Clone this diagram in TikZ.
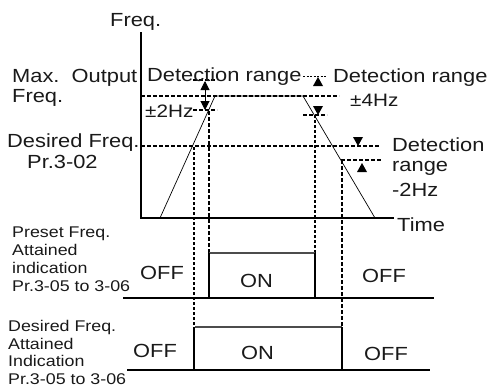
\documentclass[tikz,border=0pt]{standalone}
\usepackage{fontspec}
\setmainfont{Liberation Sans}[FakeStretch=1.15]
\usetikzlibrary{arrows.meta}
\begin{document}
\begin{tikzpicture}[x=1pt,y=-1pt,
  big/.style={font=\fontsize{19}{22}\selectfont, inner sep=0pt, anchor=base west, text=black!90},
  small/.style={font=\fontsize{15.5}{18}\selectfont, inner sep=0pt, anchor=base west, text=black!90},
  axis/.style={line width=1.3pt},
  ramp/.style={line width=0.7pt},
  guide/.style={line width=1.3pt, dash pattern=on 4pt off 2pt},
  vthick/.style={line width=1.8pt, dash pattern=on 4pt off 2pt},
  vthin/.style={line width=1.2pt, dash pattern=on 3pt off 2pt},
  fine/.style={line width=0.6pt, dash pattern=on 2pt off 1.5pt},
  base/.style={line width=1.7pt},
  high/.style={line width=1.3pt, black!70},
  edge/.style={line width=1.6pt},
  tri/.style={fill=black}
]
\useasboundingbox (0,0) rectangle (494,388);

% axes
\coordinate (o) at (141,218);
\coordinate (ytop) at (141,32);
\coordinate (xend) at (394,218);
\draw[axis] (ytop) -- (o) -- (xend);

% ramp profile
\coordinate (r0) at (160,218);
\coordinate (r1) at (215,96);
\coordinate (r2) at (303,96);
\coordinate (r3) at (375,218);
\draw[ramp] (r0) -- (r1) -- (r2) -- (r3);

% horizontal guides
\draw[guide] (141,96) -- (339,96);
\draw[guide] (141,146) -- (380,146);
\draw[guide] (193,80) -- (217,80);
\draw[guide] (193,110) -- (217,110);
\draw[fine] (303,76) -- (327,76);
\draw[guide] (303,115) -- (327,115);
\draw[guide] (341,160) -- (382,160);

% detection arrows / markers
\draw[line width=1pt, {Triangle[width=9pt,length=9pt]}-{Triangle[width=9pt,length=9pt]}] (205,81) -- (205,110);
\fill[tri] (313,86) -- (323,86) -- (318,77) -- cycle;
\fill[tri] (313,106) -- (323,106) -- (318,115) -- cycle;
\fill[tri] (353,137) -- (363,137) -- (358,146) -- cycle;
\fill[tri] (357,172) -- (367,172) -- (362,163) -- cycle;

% vertical guides
\draw[vthin] (194,147) -- (194,370);
\draw[vthick] (209,111) -- (209,253);
\draw[vthin] (315,115) -- (315,253);
\draw[vthick] (342,160) -- (342,370);

% preset waveform
\draw[base] (123,298) -- (434,298);
\draw[high] (209,253) -- (315,253);
\draw[edge] (209,253) -- (209,298);
\draw[line width=1.1pt] (315,253) -- (315,298);

% desired waveform
\draw[base] (127,370) -- (430,370);
\draw[high] (195,327) -- (342,327);
\draw[edge] (194,327) -- (194,370);
\draw[edge] (342,327) -- (342,370);

% texts
\node[big] (tfreq) at (110,26) {Freq.};
\node[big] (tmax) at (12,82) {Max.\ \ Output};
\node[big] (tmax2) at (12,102) {Freq.};
\node[big] (tdes) at (7,147) {Desired Freq.};
\node[big] (tpr) at (27,168) {Pr.3-02};
\node[big] (tdet1) at (147,81) {Detection range};
\node[big, font=\fontsize{18}{22}\selectfont] (t2hz) at (145,117) {±2Hz};
\node[big] (tdet2) at (333,82) {Detection range};
\node[big, font=\fontsize{18}{22}\selectfont] (t4hz) at (350,106) {±4Hz};
\node[big] (tdet3) at (392,151) {Detection};
\node[big] (tdet3b) at (392,171) {range};
\node[big] (tdet3c) at (392,196) {-2Hz};
\node[big] (ttime) at (397,231) {Time};

\node[small] (p1) at (12,237) {Preset Freq.};
\node[small] (p2) at (12,255) {Attained};
\node[small] (p3) at (12,273) {indication};
\node[small] (p4) at (12,291) {Pr.3-05 to 3-06};

\node[small] (d1) at (8,331.5) {Desired Freq.};
\node[small] (d2) at (8,349) {Attained};
\node[small] (d3) at (8,366.5) {Indication};
\node[small] (d4) at (8,384) {Pr.3-05 to 3-06};

\node[big] (poff1) at (140,279) {OFF};
\node[big] (pon) at (240,287) {ON};
\node[big] (poff2) at (362,282) {OFF};
\node[big] (doff1) at (133,357) {OFF};
\node[big] (don) at (241,359) {ON};
\node[big] (doff2) at (364,360) {OFF};
\end{tikzpicture}
\end{document}
